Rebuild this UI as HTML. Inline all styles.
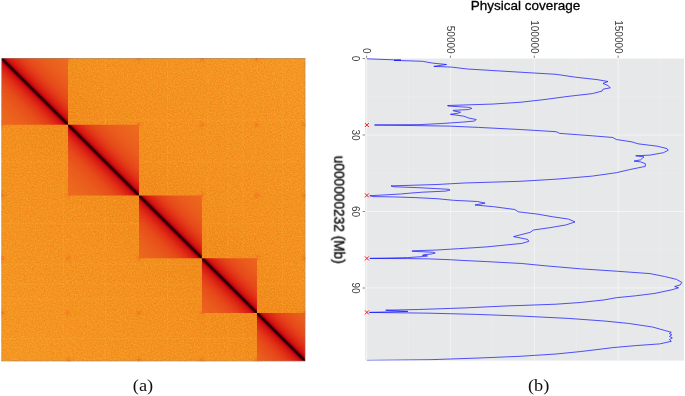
<!DOCTYPE html>
<html><head><meta charset="utf-8"><title>figure</title>
<style>
html,body{margin:0;padding:0;background:#fff;}
body{width:685px;height:396px;overflow:hidden;font-family:"Liberation Sans",sans-serif;}
svg{display:block;}
svg text{font-family:"Liberation Sans",sans-serif;}
.serif{font-family:"Liberation Serif",serif;}
</style></head><body>
<svg width="685" height="396" viewBox="0 0 685 396">
<defs>
<linearGradient id="gin" gradientUnits="userSpaceOnUse" x1="0" y1="304" x2="304" y2="0"><stop offset="0.37913" stop-color="#ed6c1e"/><stop offset="0.40237" stop-color="#ec681e"/><stop offset="0.43491" stop-color="#ea5c1c"/><stop offset="0.45816" stop-color="#e74c1a"/><stop offset="0.47211" stop-color="#e23a18"/><stop offset="0.48140" stop-color="#dc2814"/><stop offset="0.48838" stop-color="#d61812"/><stop offset="0.49210" stop-color="#cc0e10"/><stop offset="0.49489" stop-color="#b0060c"/><stop offset="0.49675" stop-color="#780004"/><stop offset="0.49837" stop-color="#3a0000"/><stop offset="0.50000" stop-color="#160000"/><stop offset="0.50163" stop-color="#3a0000"/><stop offset="0.50325" stop-color="#780004"/><stop offset="0.50511" stop-color="#b0060c"/><stop offset="0.50790" stop-color="#cc0e10"/><stop offset="0.51162" stop-color="#d61812"/><stop offset="0.51860" stop-color="#dc2814"/><stop offset="0.52789" stop-color="#e23a18"/><stop offset="0.54184" stop-color="#e74c1a"/><stop offset="0.56509" stop-color="#ea5c1c"/><stop offset="0.59763" stop-color="#ec681e"/><stop offset="0.62087" stop-color="#ed6c1e"/></linearGradient>
<linearGradient id="goff" gradientUnits="userSpaceOnUse" x1="0" y1="304" x2="304" y2="0"><stop offset="0.00024" stop-color="#f59725"/><stop offset="0.36053" stop-color="#f38f1f"/><stop offset="0.50000" stop-color="#f0871c"/><stop offset="0.63947" stop-color="#f38f1f"/><stop offset="0.99976" stop-color="#f59725"/></linearGradient>
<radialGradient id="spot"><stop offset="0" stop-color="#e85018" stop-opacity="0.55"/><stop offset="0.4" stop-color="#ee6a1c" stop-opacity="0.25"/><stop offset="1" stop-color="#f28a22" stop-opacity="0"/></radialGradient>
<filter id="noise" color-interpolation-filters="sRGB" x="0" y="0" width="100%" height="100%"><feTurbulence type="fractalNoise" baseFrequency="0.7" numOctaves="2" seed="7" result="n"/><feColorMatrix in="n" type="matrix" values="0 0 0 0 1  0 0 0 0 0.74  0 0 0 0 0.2  2.2 0 0 0 -0.8"/></filter>
<filter id="noise2" color-interpolation-filters="sRGB" x="0" y="0" width="100%" height="100%"><feTurbulence type="fractalNoise" baseFrequency="0.65" numOctaves="2" seed="23" result="n"/><feColorMatrix in="n" type="matrix" values="0 0 0 0 0.92  0 0 0 0 0.40  0 0 0 0 0.08  0 2.2 0 0 -0.95"/></filter>
<clipPath id="hm"><rect x="0" y="0" width="304" height="304"/></clipPath>
<clipPath id="blk"><rect x="0.00" y="0.00" width="66.70" height="66.70"/><rect x="66.70" y="66.70" width="70.90" height="70.90"/><rect x="137.60" y="137.60" width="62.90" height="62.90"/><rect x="200.50" y="200.50" width="55.00" height="55.00"/><rect x="255.50" y="255.50" width="48.50" height="48.50"/></clipPath>
<clipPath id="panel"><rect x="365.0" y="58.0" width="319.0" height="302.6"/></clipPath>
</defs>
<rect width="685" height="396" fill="#fff"/>
<g transform="translate(1.3,58.1) scale(1.00066,0.99770)">
<g clip-path="url(#hm)">
<rect x="0" y="0" width="304" height="304" fill="url(#goff)"/>
<circle cx="66.7" cy="137.6" r="6" fill="url(#spot)"/><circle cx="66.7" cy="200.5" r="6" fill="url(#spot)"/><circle cx="66.7" cy="255.5" r="6" fill="url(#spot)"/><circle cx="137.6" cy="66.7" r="6" fill="url(#spot)"/><circle cx="137.6" cy="200.5" r="6" fill="url(#spot)"/><circle cx="137.6" cy="255.5" r="6" fill="url(#spot)"/><circle cx="200.5" cy="66.7" r="6" fill="url(#spot)"/><circle cx="200.5" cy="137.6" r="6" fill="url(#spot)"/><circle cx="200.5" cy="255.5" r="6" fill="url(#spot)"/><circle cx="255.5" cy="66.7" r="6" fill="url(#spot)"/><circle cx="255.5" cy="137.6" r="6" fill="url(#spot)"/><circle cx="255.5" cy="200.5" r="6" fill="url(#spot)"/><circle cx="66.7" cy="1" r="6" fill="url(#spot)"/><circle cx="1" cy="66.7" r="6" fill="url(#spot)"/><circle cx="66.7" cy="303" r="6" fill="url(#spot)"/><circle cx="303" cy="66.7" r="6" fill="url(#spot)"/><circle cx="137.6" cy="1" r="6" fill="url(#spot)"/><circle cx="1" cy="137.6" r="6" fill="url(#spot)"/><circle cx="137.6" cy="303" r="6" fill="url(#spot)"/><circle cx="303" cy="137.6" r="6" fill="url(#spot)"/><circle cx="200.5" cy="1" r="6" fill="url(#spot)"/><circle cx="1" cy="200.5" r="6" fill="url(#spot)"/><circle cx="200.5" cy="303" r="6" fill="url(#spot)"/><circle cx="303" cy="200.5" r="6" fill="url(#spot)"/><circle cx="255.5" cy="1" r="6" fill="url(#spot)"/><circle cx="1" cy="255.5" r="6" fill="url(#spot)"/><circle cx="255.5" cy="303" r="6" fill="url(#spot)"/><circle cx="303" cy="255.5" r="6" fill="url(#spot)"/>
<g stroke="#fcb848" stroke-width="0.7" opacity="0.3" fill="none"><path d="M62.0 0V304M0 62.0H304"/><path d="M104.0 0V304M0 104.0H304"/><path d="M166.0 0V304M0 166.0H304"/><path d="M206.5 0V304M0 206.5H304"/><path d="M226.5 0V304M0 226.5H304"/><path d="M241.5 0V304M0 241.5H304"/><path d="M281.0 0V304M0 281.0H304"/></g>
<rect x="0" y="0" width="304" height="304" filter="url(#noise)" opacity="0.45"/>
<rect x="0" y="0" width="304" height="304" filter="url(#noise2)" opacity="0.4"/>
<g clip-path="url(#blk)"><rect x="0" y="0" width="304" height="304" fill="url(#gin)"/></g>
<rect x="0.4" y="0.4" width="303.2" height="303.2" fill="none" stroke="#8a8a8a" stroke-width="0.8" opacity="0.55"/>
</g>
</g>
<rect x="365.0" y="58.0" width="319.0" height="302.6" fill="#e7e8e9"/>
<line x1="408.53" y1="58.00" x2="408.53" y2="360.60" stroke="#efefef" stroke-width="0.5"/><line x1="492.38" y1="58.00" x2="492.38" y2="360.60" stroke="#efefef" stroke-width="0.5"/><line x1="576.23" y1="58.00" x2="576.23" y2="360.60" stroke="#efefef" stroke-width="0.5"/><line x1="660.08" y1="58.00" x2="660.08" y2="360.60" stroke="#efefef" stroke-width="0.5"/><line x1="365.00" y1="96.75" x2="684.00" y2="96.75" stroke="#efefef" stroke-width="0.5"/><line x1="365.00" y1="173.25" x2="684.00" y2="173.25" stroke="#efefef" stroke-width="0.5"/><line x1="365.00" y1="249.75" x2="684.00" y2="249.75" stroke="#efefef" stroke-width="0.5"/><line x1="365.00" y1="326.25" x2="684.00" y2="326.25" stroke="#efefef" stroke-width="0.5"/><line x1="366.60" y1="58.00" x2="366.60" y2="360.60" stroke="#f6f6f6" stroke-width="0.8"/><line x1="450.45" y1="58.00" x2="450.45" y2="360.60" stroke="#f6f6f6" stroke-width="0.8"/><line x1="534.30" y1="58.00" x2="534.30" y2="360.60" stroke="#f6f6f6" stroke-width="0.8"/><line x1="618.15" y1="58.00" x2="618.15" y2="360.60" stroke="#f6f6f6" stroke-width="0.8"/><line x1="365.00" y1="58.50" x2="684.00" y2="58.50" stroke="#f6f6f6" stroke-width="0.8"/><line x1="365.00" y1="135.00" x2="684.00" y2="135.00" stroke="#f6f6f6" stroke-width="0.8"/><line x1="365.00" y1="211.50" x2="684.00" y2="211.50" stroke="#f6f6f6" stroke-width="0.8"/><line x1="365.00" y1="288.00" x2="684.00" y2="288.00" stroke="#f6f6f6" stroke-width="0.8"/>
<line x1="366.60" y1="55.6" x2="366.60" y2="58" stroke="#555" stroke-width="0.7"/><line x1="450.45" y1="55.6" x2="450.45" y2="58" stroke="#555" stroke-width="0.7"/><line x1="534.30" y1="55.6" x2="534.30" y2="58" stroke="#555" stroke-width="0.7"/><line x1="618.15" y1="55.6" x2="618.15" y2="58" stroke="#555" stroke-width="0.7"/><line x1="362.6" y1="58.50" x2="365" y2="58.50" stroke="#555" stroke-width="0.7"/><line x1="362.6" y1="135.00" x2="365" y2="135.00" stroke="#555" stroke-width="0.7"/><line x1="362.6" y1="211.50" x2="365" y2="211.50" stroke="#555" stroke-width="0.7"/><line x1="362.6" y1="288.00" x2="365" y2="288.00" stroke="#555" stroke-width="0.7"/>
<g font-size="10" fill="#3c3c3c" opacity="0.999"><text transform="translate(363.00,53.6) rotate(90)" text-anchor="end">0</text><text transform="translate(446.85,53.6) rotate(90)" text-anchor="end">50000</text><text transform="translate(530.70,53.6) rotate(90)" text-anchor="end">100000</text><text transform="translate(614.55,53.6) rotate(90)" text-anchor="end">150000</text><text transform="translate(351.8,58.50) rotate(90)" text-anchor="middle">0</text><text transform="translate(351.8,135.00) rotate(90)" text-anchor="middle">30</text><text transform="translate(351.8,211.50) rotate(90)" text-anchor="middle">60</text><text transform="translate(351.8,288.00) rotate(90)" text-anchor="middle">90</text></g>
<g clip-path="url(#panel)"><polyline points="366.9,58.8 393.2,59.8 401,60.0 394,60.4 402,60.6 422.4,61.3 432.6,63.1 446.5,64.5 433.8,66.4 451.6,67.1 464,68.6 467.5,69 520,72.2 556,74.3 575.4,77.2 597,79.6 608,81.5 603,83.4 608,85.6 610.4,87.8 603,89.2 602,91.1 592.3,93.6 568,96.4 544,99.6 520,102.3 493,104.05 447.7,105.5 447.7,106.0 469.6,107.4 471.8,108.4 468.2,109.6 453.3,110.3 453.3,110.9 460.6,112.2 458.2,113.2 450.4,114.3 463.8,116.2 468.9,118.1 476.2,119.5 474.7,121 463.8,122 441.9,123.5 420,124.6 374.5,125.0 449.2,126.1 478.4,127.4 520,129.5 556.1,131.7 559.8,133.4 592.3,135.8 612.8,137.5 616.4,139.5 632,141.9 638,143.8 657.3,146.2 667,148.6 668.2,150.3 663.4,152.7 650,155.1 635.7,155.8 644,156.8 640.5,159.9 634,161.1 640.5,161.9 645.3,163.6 645.3,166.4 629.6,169.6 616.4,172.7 592.3,176.1 556.1,179.2 520,181.3 464,183 437,184.5 391,185.9 393.2,186.7 421,187.8 448.7,189.3 450.1,190 445.8,191.1 422.4,192.2 409.3,193.2 400.5,194 381.5,195.1 369.8,195.7 372.8,196.6 393.2,196.9 415.1,197.6 437,198.7 453.5,200.3 477.4,201.5 485.1,203.1 475,205 493.7,206.7 514.8,209.5 518.3,211.8 538.1,214.2 552.1,216.7 568.5,219.1 575,221.9 566.2,224.9 549.8,227.7 533.5,230 530,232.4 513.6,236.6 527.6,239.4 528.8,241.3 521.8,243.4 486.7,246.9 458.7,248.7 437,250 412.2,250.8 412.2,251.3 432.6,252.2 435.2,253 431.2,254 423.9,254.7 422.4,255.4 427.5,255.9 422.4,256.6 407.8,257.6 385.9,258.1 369.8,258.4 407.8,258.6 429.7,258.9 451.6,259.8 464,260.5 486.7,261.6 521.8,263.5 544.1,265.7 580.2,268.8 616.4,271.2 650.1,273.6 664.6,276.5 676.6,279.4 681.9,282.5 680.2,284.9 674.7,286.6 678.6,287.8 671.8,289.8 654.9,293.4 635.7,295.8 616.4,297.7 604.3,299.9 580.2,302.5 556.1,304.2 520,305.5 509.5,305.8 465.1,307.9 418.4,309.5 385.7,310.2 407.9,311.4 369.3,312.4 430,313.2 476.8,314.4 520,316 568.2,318.4 604.3,321 628.4,323.4 652.5,327 664.6,330.4 671.3,332.3 669.4,333.6 671.8,334.8 669.4,336.4 672.3,337.9 669.4,339.6 671.3,341.3 659.8,343.9 635.7,345.6 614,347.5 580.2,351.6 556.1,354 520,356.3 476.8,358.1 430,359.7 367,360.4" fill="none" stroke="#0c0cff" stroke-width="0.7" stroke-linejoin="round"/></g>
<g stroke="#f01818" stroke-width="0.95" fill="none"><path d="M364.90 123.00l4 4m0 -4l-4 4" /><path d="M364.90 193.40l4 4m0 -4l-4 4" /><path d="M364.90 256.40l4 4m0 -4l-4 4" /><path d="M364.90 310.40l4 4m0 -4l-4 4" /></g>
<g opacity="0.999"><text x="525.5" y="10.4" font-size="13.5" text-anchor="middle" fill="#000" stroke="#000" stroke-width="0.3">Physical coverage</text>
<text transform="translate(334.0,209.7) rotate(90) scale(1,1.1)" font-size="13.7" text-anchor="middle" fill="#111" stroke="#111" stroke-width="0.4">u000000232 (Mb)</text>
<text class="serif" transform="translate(143,391.2) scale(1.1,1)" font-size="16.7" text-anchor="middle" fill="#111">(a)</text>
<text class="serif" transform="translate(538.7,391.2) scale(1.1,1)" font-size="16.7" text-anchor="middle" fill="#111">(b)</text></g>
</svg>
</body></html>
